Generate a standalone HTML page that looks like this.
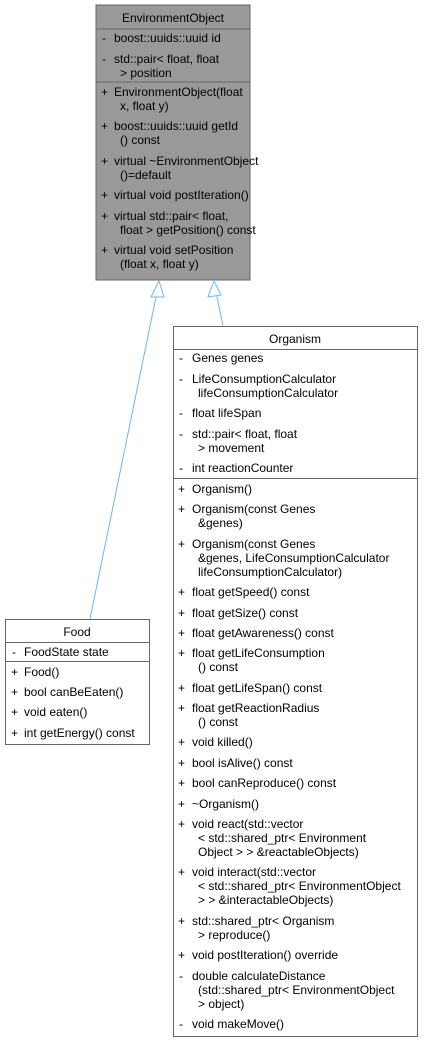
<!DOCTYPE html><html><head><style>body{margin:0;background:#fff}svg{display:block}text{font-family:"Liberation Sans",sans-serif;font-size:12px;fill:#000;dominant-baseline:central}</style></head><body>
<svg width="424" height="1043" xmlns="http://www.w3.org/2000/svg">
<rect x="96" y="5" width="154" height="275" fill="#999" stroke="#666"/>
<line x1="96" y1="29" x2="250" y2="29" stroke="#666"/><line x1="96" y1="82" x2="250" y2="82" stroke="#666"/>
<text x="173" y="18" text-anchor="middle">EnvironmentObject</text>
<g>
<text x="102" y="38">-</text><text x="114" y="38">boost::uuids::uuid id</text>
<text x="102" y="59">-</text><text x="114" y="59">std::pair&lt; float, float</text><text x="120" y="73">&gt; position</text>
<text x="101" y="92">+</text><text x="114" y="92">EnvironmentObject(float</text><text x="120" y="106">x, float y)</text>
<text x="101" y="126">+</text><text x="114" y="126">boost::uuids::uuid getId</text><text x="120" y="140">() const</text>
<text x="101" y="161">+</text><text x="114" y="161">virtual ~EnvironmentObject</text><text x="120" y="175">()=default</text>
<text x="101" y="195">+</text><text x="114" y="195">virtual void postIteration()</text>
<text x="101" y="216">+</text><text x="114" y="216">virtual std::pair&lt; float,</text><text x="120" y="230">float &gt; getPosition() const</text>
<text x="101" y="250">+</text><text x="114" y="250">virtual void setPosition</text><text x="120" y="264">(float x, float y)</text>
</g>
<g stroke="#63b8ff" fill="none">
<line x1="90" y1="619" x2="157" y2="292"/><polygon points="159,281 151,297 164,297" fill="#fff"/>
<line x1="223" y1="326" x2="216" y2="292"/><polygon points="214,281 208,297 221,295" fill="#fff"/>
</g>
<rect x="5.5" y="619.5" width="144" height="125" fill="#fff" stroke="#666"/>
<line x1="5" y1="642.5" x2="150" y2="642.5" stroke="#666"/><line x1="5" y1="661.5" x2="150" y2="661.5" stroke="#666"/>
<text x="77" y="632" text-anchor="middle">Food</text>
<text x="12" y="652">-</text><text x="24" y="652">FoodState state</text>
<text x="11" y="672">+</text><text x="24" y="672">Food()</text>
<text x="11" y="692">+</text><text x="24" y="692">bool canBeEaten()</text>
<text x="11" y="712">+</text><text x="24" y="712">void eaten()</text>
<text x="11" y="733">+</text><text x="24" y="733">int getEnergy() const</text>
<rect x="173.5" y="326.5" width="244" height="710" fill="#fff" stroke="#666"/>
<line x1="173" y1="349.5" x2="418" y2="349.5" stroke="#666"/><line x1="173" y1="478.5" x2="418" y2="478.5" stroke="#666"/>
<text x="295" y="339" text-anchor="middle">Organism</text>
<g>
<text x="179" y="358">-</text><text x="192" y="358">Genes genes</text>
<text x="179" y="379">-</text><text x="192" y="379">LifeConsumptionCalculator</text><text x="198" y="393">lifeConsumptionCalculator</text>
<text x="179" y="413">-</text><text x="192" y="413">float lifeSpan</text>
<text x="179" y="434">-</text><text x="192" y="434">std::pair&lt; float, float</text><text x="198" y="448">&gt; movement</text>
<text x="179" y="468">-</text><text x="192" y="468">int reactionCounter</text>
<text x="178" y="489">+</text><text x="192" y="489">Organism()</text>
<text x="178" y="509">+</text><text x="192" y="509">Organism(const Genes</text><text x="198" y="523">&amp;genes)</text>
<text x="178" y="544">+</text><text x="192" y="544">Organism(const Genes</text><text x="198" y="558">&amp;genes, LifeConsumptionCalculator</text><text x="198" y="572">lifeConsumptionCalculator)</text>
<text x="178" y="592">+</text><text x="192" y="592">float getSpeed() const</text>
<text x="178" y="613">+</text><text x="192" y="613">float getSize() const</text>
<text x="178" y="633">+</text><text x="192" y="633">float getAwareness() const</text>
<text x="178" y="653">+</text><text x="192" y="653">float getLifeConsumption</text><text x="198" y="667">() const</text>
<text x="178" y="688">+</text><text x="192" y="688">float getLifeSpan() const</text>
<text x="178" y="708">+</text><text x="192" y="708">float getReactionRadius</text><text x="198" y="722">() const</text>
<text x="178" y="742">+</text><text x="192" y="742">void killed()</text>
<text x="178" y="763">+</text><text x="192" y="763">bool isAlive() const</text>
<text x="178" y="783">+</text><text x="192" y="783">bool canReproduce() const</text>
<text x="178" y="804">+</text><text x="192" y="804">~Organism()</text>
<text x="178" y="824">+</text><text x="192" y="824">void react(std::vector</text><text x="198" y="838">&lt; std::shared_ptr&lt; Environment</text><text x="198" y="852">Object &gt; &gt; &amp;reactableObjects)</text>
<text x="178" y="872">+</text><text x="192" y="872">void interact(std::vector</text><text x="198" y="886">&lt; std::shared_ptr&lt; EnvironmentObject</text><text x="198" y="900">&gt; &gt; &amp;interactableObjects)</text>
<text x="178" y="921">+</text><text x="192" y="921">std::shared_ptr&lt; Organism</text><text x="198" y="935">&gt; reproduce()</text>
<text x="178" y="955">+</text><text x="192" y="955">void postIteration() override</text>
<text x="179" y="976">-</text><text x="192" y="976">double calculateDistance</text><text x="198" y="990">(std::shared_ptr&lt; EnvironmentObject</text><text x="198" y="1004">&gt; object)</text>
<text x="179" y="1024">-</text><text x="192" y="1024">void makeMove()</text>
</g>
</svg></body></html>
